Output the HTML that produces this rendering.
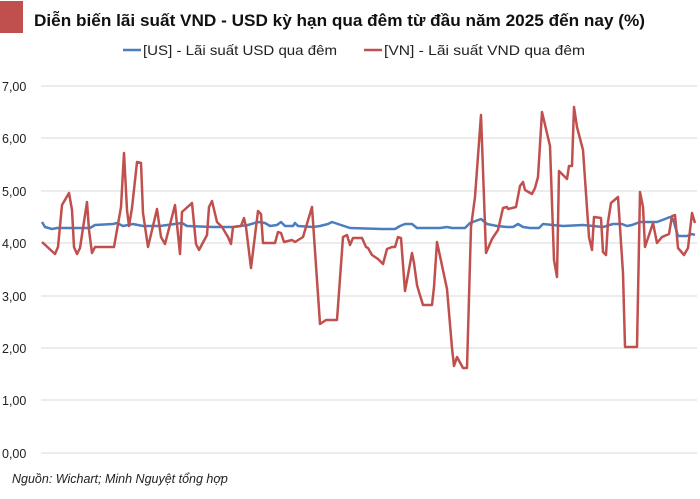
<!DOCTYPE html>
<html><head><meta charset="utf-8"><style>
html,body{margin:0;padding:0;background:#fff;}
svg{display:block;font-family:"Liberation Sans",sans-serif;}
</style></head><body>
<svg width="700" height="499" viewBox="0 0 700 499" xmlns="http://www.w3.org/2000/svg">
<rect x="0" y="1" width="23" height="32" fill="#c0504d"/>
<text x="34" y="26" font-size="17" font-weight="bold" fill="#111" textLength="611" lengthAdjust="spacingAndGlyphs">Diễn biến lãi suất VND - USD kỳ hạn qua đêm từ đầu năm 2025 đến nay (%)</text>
<line x1="123" y1="50" x2="141" y2="50" stroke="#4a7ebf" stroke-width="2.5"/>
<text x="143" y="55" font-size="14" fill="#222" textLength="194" lengthAdjust="spacingAndGlyphs">[US] -  Lãi suất USD qua đêm</text>
<line x1="364" y1="50" x2="382" y2="50" stroke="#c0504d" stroke-width="2.5"/>
<text x="384" y="55" font-size="14" fill="#222" textLength="201" lengthAdjust="spacingAndGlyphs">[VN] -  Lãi suất VND qua đêm</text>
<g stroke="#d9d9d9" stroke-width="1">
<line x1="41" y1="86" x2="697" y2="86"/><line x1="41" y1="138" x2="697" y2="138"/>
<line x1="41" y1="191" x2="697" y2="191"/><line x1="41" y1="243" x2="697" y2="243"/>
<line x1="41" y1="296" x2="697" y2="296"/><line x1="41" y1="348" x2="697" y2="348"/>
<line x1="41" y1="400" x2="697" y2="400"/><line x1="41" y1="453" x2="697" y2="453"/>
</g>
<g font-size="12.5" fill="#222">
<text x="2" y="91">7,00</text><text x="2" y="143">6,00</text><text x="2" y="196">5,00</text>
<text x="2" y="248">4,00</text><text x="2" y="301">3,00</text><text x="2" y="353">2,00</text>
<text x="2" y="405">1,00</text><text x="2" y="458">0,00</text>
</g>
<polyline fill="none" stroke="#4a7ebf" stroke-width="2.5" stroke-linejoin="round" points="42,222 45,227 52,229 57,228 83,228 90,228 95,225 113,224 117,223 123,226 133,224 143,226 160,226 182,223 187,226 213,227 233,227 248,225 258,222 265,223 270,226 277,225 281,222 285,226 293,226 295,223 298,226 313,227 320,226 328,224 332,222 350,228 383,229 395,229 400,226 405,224 412,224 417,228 440,228 447,227 452,228 465,228 470,223 481,219 487,224 497,226 507,227 513,227 518,224 523,227 530,228 539,228 543,224 563,226 583,225 603,227 613,224 622,224 627,226 632,225 640,222 657,222 665,219 670,217 673,219 678,236 687,236 692,234 695,235"/>
<polyline fill="none" stroke="#c0504d" stroke-width="2.5" stroke-linejoin="round" points="42,242 55,254 58,247 62,205 69,193 72,210 74,247 77,254 80,248 87,202 89,230 92,253 95,247 114,247 121,207 124,153 127,210 129,226 132,208 137,162 141,163 143,213 148,247 157,209 161,237 165,244 175,205 180,254 182,212 192,203 196,244 199,250 207,235 209,207 212,201 217,222 222,227 228,237 231,244 233,227 241,226 244,218 246,227 251,268 258,211 261,214 263,243 275,243 278,232 281,233 284,242 292,240 295,242 303,237 312,207 317,280 320,324 326,320 337,320 343,237 347,235 350,245 353,238 362,238 366,247 368,248 372,255 378,259 383,264 387,249 392,247 395,247 398,237 401,238 405,291 412,253 414,263 417,285 419,292 423,305 432,305 434,287 437,242 447,289 452,348 454,366 457,357 463,368 467,368 471,227 475,197 481,115 486,253 492,239 498,230 503,208 507,207 508,209 516,207 520,186 523,182 525,190 532,194 535,188 538,177 542,112 550,146 554,260 557,277 559,171 567,179 569,166 572,166 574,107 577,127 583,150 589,237 592,250 594,217 601,218 603,252 606,255 608,222 611,203 618,197 623,273 625,347 637,347 640,192 643,207 645,247 653,223 657,243 662,237 669,234 672,216 675,215 678,248 684,255 688,248 692,213 695,223"/>
<text x="12" y="483" font-size="12.5" font-style="italic" fill="#222">Nguồn: Wichart; Minh Nguyệt tổng hợp</text>
</svg>
</body></html>
